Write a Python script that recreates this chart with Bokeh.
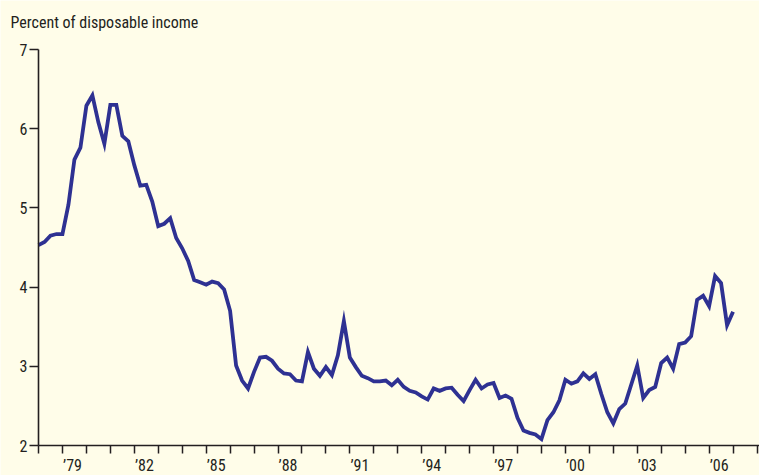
from bokeh.plotting import figure
from bokeh.models import FixedTicker, Range1d, ColumnDataSource, Label
from bokeh.embed import file_html
from bokeh.resources import INLINE

# Quarterly data, 1978Q1 - 2007Q1 (percent of disposable income)
start_year = 1978
values = [
    4.53, 4.57, 4.65, 4.67, 4.67, 5.04, 5.61, 5.76, 6.29, 6.42,
    6.08, 5.81, 6.30, 6.30, 5.91, 5.84, 5.54, 5.28, 5.29, 5.08,
    4.77, 4.80, 4.87, 4.62, 4.49, 4.33, 4.09, 4.06, 4.03, 4.07,
    4.05, 3.97, 3.70, 3.01, 2.82, 2.72, 2.93, 3.11, 3.12, 3.07,
    2.97, 2.91, 2.90, 2.82, 2.81, 3.18, 2.97, 2.88, 2.99, 2.89,
    3.14, 3.57, 3.11, 2.99, 2.88, 2.85, 2.81, 2.81, 2.82, 2.76,
    2.83, 2.74, 2.69, 2.67, 2.62, 2.58, 2.72, 2.69, 2.72, 2.73,
    2.64, 2.56, 2.70, 2.83, 2.72, 2.77, 2.79, 2.60, 2.63, 2.59,
    2.35, 2.19, 2.16, 2.14, 2.08, 2.32, 2.42, 2.57, 2.83, 2.78,
    2.81, 2.91, 2.84, 2.90, 2.65, 2.42, 2.28, 2.46, 2.53, 2.77,
    3.01, 2.60, 2.70, 2.74, 3.04, 3.11, 2.97, 3.28, 3.30, 3.38,
    3.84, 3.89, 3.76, 4.14, 4.05, 3.52, 3.69,
]
quarters = [start_year + i / 4 for i in range(len(values))]

year_label_years = [1979, 1982, 1985, 1988, 1991, 1994, 1997, 2000, 2003, 2006]
year_labels = ["’79", "’82", "’85", "’88", "’91", "’94", "’97", "’00", "’03", "’06"]
year_ticks = list(range(1978, 2009))
y_ticks = [2, 3, 4, 5, 6, 7]
title_text = "Percent of disposable income"

BG = "#FFFDE9"
INK = "#231F20"
LINE = "#2E3192"
FONT = "'Liberation Sans Narrow', 'Roboto Condensed', 'DejaVu Sans Condensed', Roboto, sans-serif"

# The frame fills the whole canvas; axes are pinned at x=1978 / y=2.
PX_PER_YEAR = 23.95
PX_PER_UNIT = 79.2
W, H = 759, 475
AX_LEFT, AX_BOTTOM, AX_TOP = 38, 445, 49
x0 = start_year - AX_LEFT / PX_PER_YEAR
x1 = start_year + (W - AX_LEFT) / PX_PER_YEAR
y0 = 2 - (H - AX_BOTTOM) / PX_PER_UNIT
y1 = 7 + AX_TOP / PX_PER_UNIT

p = figure(width=W, height=H, output_backend="svg", toolbar_location=None,
           x_range=Range1d(x0, x1), y_range=Range1d(y0, y1),
           min_border=0)
p.background_fill_color = BG
p.border_fill_color = BG
p.outline_line_color = None
p.grid.visible = False

src = ColumnDataSource(dict(x=quarters, y=values))
p.line("x", "y", source=src, line_color=LINE, line_width=3.8, line_join="miter")

# x axis: tick marks at year boundaries, labels near mid-year
xa = p.xaxis[0]
xa.fixed_location = 2
xa.bounds = (start_year, x1)
xa.ticker = FixedTicker(ticks=[y + 0.42 for y in year_label_years],
                        minor_ticks=year_ticks)
xa.major_label_overrides = {y + 0.42: lab for y, lab in zip(year_label_years, year_labels)}
xa.major_tick_out = 0
xa.major_tick_in = 0
xa.minor_tick_out = 8
xa.minor_tick_in = 0
xa.minor_tick_line_color = INK
xa.minor_tick_line_width = 1.5
xa.axis_line_color = INK
xa.axis_line_width = 1.6
xa.major_label_standoff = 2
xa.major_label_text_font = FONT
xa.major_label_text_font_size = "16px"
xa.major_label_text_color = INK

ya = p.yaxis[0]
ya.fixed_location = start_year
ya.bounds = (2, 7)
ya.ticker = FixedTicker(ticks=y_ticks)
ya.major_tick_out = 9
ya.major_tick_in = 0
ya.minor_tick_out = 0
ya.minor_tick_in = 0
ya.major_tick_line_color = INK
ya.major_tick_line_width = 1.5
ya.axis_line_color = INK
ya.axis_line_width = 1.6
ya.major_label_standoff = 2
ya.major_label_text_font = FONT
ya.major_label_text_font_size = "16px"
ya.major_label_text_color = INK

p.add_layout(Label(x=10, y=H - 22, x_units="screen", y_units="screen",
                   text=title_text, text_align="left", text_baseline="alphabetic",
                   text_font=FONT, text_font_size="16px", text_color=INK))

open("out.html", "w").write(file_html(p, INLINE))
